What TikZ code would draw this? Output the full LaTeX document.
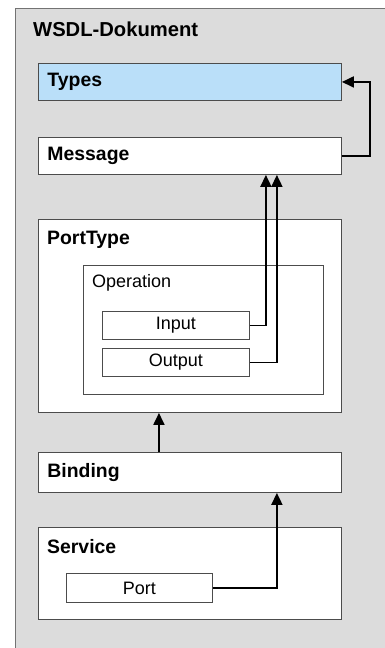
\documentclass[tikz,border=0pt]{standalone}
\usepackage{fontspec}
\setmainfont{Liberation Sans}
\usetikzlibrary{arrows.meta}
\definecolor{docgray}{HTML}{DCDCDC}
\definecolor{typesblue}{HTML}{BADFF9}

\begin{document}
\begin{tikzpicture}[x=1pt, y=-1pt,
    box/.style={draw=black!70, fill=white, line width=0.9pt, inner sep=0pt, anchor=north west},
    bigbox/.style={box, minimum width=303pt, text width=285pt, inner xsep=9pt, align=left, font=\fontsize{19.4}{21}\selectfont\bfseries},
    smallbox/.style={box, minimum width=147pt, minimum height=28pt, font=\fontsize{18}{20}\selectfont},
    head/.style={anchor=west, inner sep=0pt},
    arr/.style={line width=1.8pt, -{Triangle[length=12pt, width=11pt]}}]
        \useasboundingbox (0,0) rectangle (385,648);
        \fill[white] (0,0) rectangle (385,648);
        \draw[draw=black!55, fill=docgray, line width=0.9pt] (390,8) -- (15,8) -- (15,655) -- (390,655);
        \node [head, font=\fontsize{20.2}{22}\selectfont\bfseries] (title) at (33,29) {WSDL-Dokument};
        \node [bigbox, fill=typesblue, minimum height=37pt] (types) at (38,63) {Types};
        \node [bigbox, minimum height=37pt] (message) at (38,137) {Message};
        \node [box, minimum width=303pt, minimum height=193pt] (porttype) at (38,219) {};
        \node [head, font=\fontsize{19.4}{21}\selectfont\bfseries] (porttypelbl) at (47,240) {PortType};
        \node [box, minimum width=240pt, minimum height=129pt] (operation) at (83,265) {};
        \node [head, font=\fontsize{18}{20}\selectfont] (operationlbl) at (92,283) {Operation};
        \node [smallbox] (input) at (102,311) {Input};
        \node [smallbox] (output) at (102,348) {Output};
        \node [bigbox, minimum height=40pt] (binding) at (38,452) {Binding};
        \node [box, minimum width=303pt, minimum height=92pt] (service) at (38,527) {};
        \node [head, font=\fontsize{19.4}{21}\selectfont\bfseries] (servicelbl) at (47,547) {Service};
        \node [smallbox, minimum width=146pt, minimum height=29pt] (port) at (66,573) {Port};
        \draw[arr] (message.east) -- ++(28,0) |- (types.east);
        \draw[arr] (input.east) -| ([xshift=-76pt]message.south east);
        \draw[arr] (output.east) -| ([xshift=-65pt]message.south east);
        \draw[arr] ([xshift=-31pt]binding.north) -- ([xshift=-31pt]porttype.south);
        \draw[arr] (port.east) -| ([xshift=-65pt]binding.south east);
      \end{tikzpicture}
\end{document}
